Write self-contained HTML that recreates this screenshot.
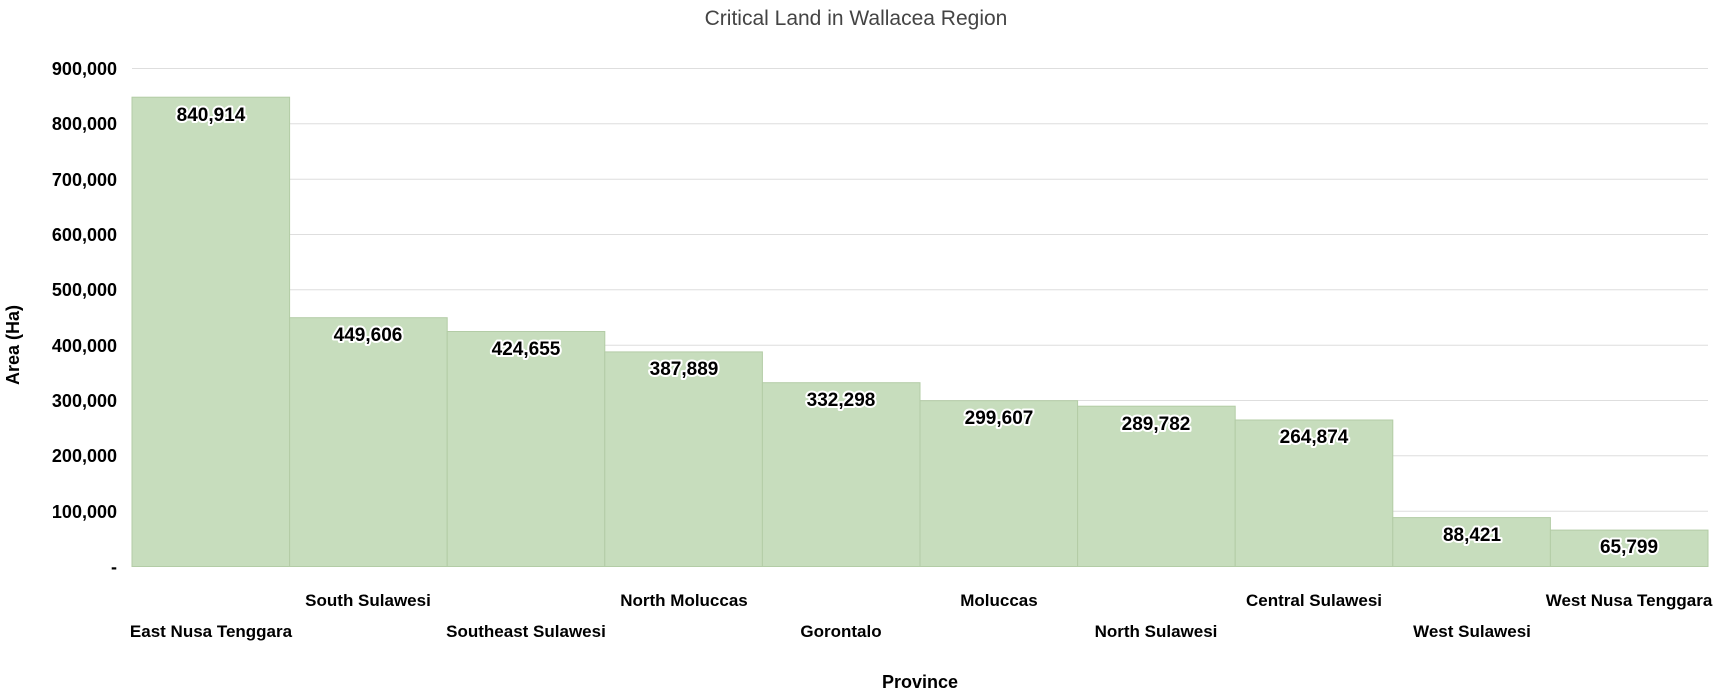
<!DOCTYPE html>
<html><head><meta charset="utf-8"><style>
body{margin:0;background:#fff}
svg text{font-family:"Liberation Sans Narrow","Liberation Sans",sans-serif}
</style></head><body>
<svg width="1713" height="693" xmlns="http://www.w3.org/2000/svg">
<text x="856" y="25" text-anchor="middle" font-size="21" fill="#444">Critical  Land  in  Wallacea  Region</text>
<g stroke="#dedede" stroke-width="1">
<line x1="132" x2="1708" y1="68.5" y2="68.5"/><line x1="132" x2="1708" y1="123.8" y2="123.8"/>
<line x1="132" x2="1708" y1="179.2" y2="179.2"/><line x1="132" x2="1708" y1="234.5" y2="234.5"/>
<line x1="132" x2="1708" y1="289.8" y2="289.8"/><line x1="132" x2="1708" y1="345.2" y2="345.2"/>
<line x1="132" x2="1708" y1="400.5" y2="400.5"/><line x1="132" x2="1708" y1="455.8" y2="455.8"/>
<line x1="132" x2="1708" y1="511.2" y2="511.2"/>
</g>
<g font-size="18" font-weight="bold" text-anchor="end" fill="#000">
<text x="117" y="75">900,000</text><text x="117" y="130">800,000</text><text x="117" y="186">700,000</text>
<text x="117" y="241">600,000</text><text x="117" y="296">500,000</text><text x="117" y="352">400,000</text>
<text x="117" y="407">300,000</text><text x="117" y="462">200,000</text><text x="117" y="518">100,000</text>
<text x="117" y="573">-</text>
</g>
<text transform="translate(19,345) rotate(-90)" text-anchor="middle" font-size="18" font-weight="bold">Area (Ha)</text>
<g fill="#c7ddbd" stroke="#b3cca6" stroke-width="1">
<rect x="132" y="97.2" width="157.6" height="469.3"/>
<rect x="289.6" y="317.7" width="157.6" height="248.8"/>
<rect x="447.2" y="331.5" width="157.6" height="235"/>
<rect x="604.8" y="351.9" width="157.6" height="214.6"/>
<rect x="762.4" y="382.7" width="157.6" height="183.8"/>
<rect x="920" y="400.7" width="157.6" height="165.8"/>
<rect x="1077.6" y="406.2" width="157.6" height="160.3"/>
<rect x="1235.2" y="420" width="157.6" height="146.5"/>
<rect x="1392.8" y="517.6" width="157.6" height="48.9"/>
<rect x="1550.4" y="530.1" width="157.6" height="36.4"/>
</g>
<g font-size="19" font-weight="bold" text-anchor="middle" fill="#000" stroke="#fff" stroke-width="4" paint-order="stroke" stroke-linejoin="round">
<text x="211" y="121">840,914</text><text x="368" y="341">449,606</text><text x="526" y="355">424,655</text>
<text x="684" y="375">387,889</text><text x="841" y="406">332,298</text><text x="999" y="424">299,607</text>
<text x="1156" y="430">289,782</text><text x="1314" y="443">264,874</text><text x="1472" y="541">88,421</text>
<text x="1629" y="553">65,799</text>
</g>
<g font-size="17" font-weight="bold" text-anchor="middle" fill="#000">
<text x="211" y="637">East Nusa Tenggara</text><text x="368" y="606">South Sulawesi</text>
<text x="526" y="637">Southeast Sulawesi</text><text x="684" y="606">North Moluccas</text>
<text x="841" y="637">Gorontalo</text><text x="999" y="606">Moluccas</text>
<text x="1156" y="637">North Sulawesi</text><text x="1314" y="606">Central Sulawesi</text>
<text x="1472" y="637">West Sulawesi</text><text x="1629" y="606">West Nusa Tenggara</text>
</g>
<text x="920" y="688" text-anchor="middle" font-size="18" font-weight="bold">Province</text>
</svg>
</body></html>
